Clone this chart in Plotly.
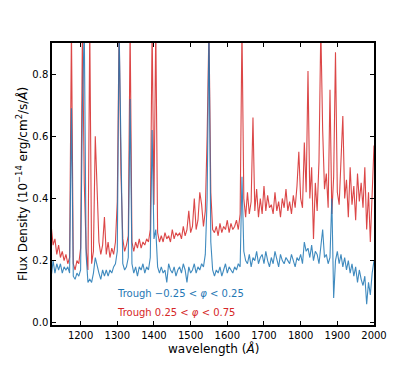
import plotly.graph_objects as go

# wavelength grid of the binned spectra (Angstrom)
wavelength = list(range(1120, 2005, 5))

# Trough 0.25 < phi < 0.75 (red)
flux_red = [
    0.31, 0.25, 0.27, 0.22, 0.25, 0.21, 0.23, 0.20, 0.22, 0.19,
    0.21, 0.95, 0.19, 0.17, 0.20, 0.19, 0.24, 0.95, 0.45, 0.24,
    0.17, 0.95, 0.19, 0.23, 0.60, 0.42, 0.26, 0.22, 0.25, 0.34,
    0.22, 0.26, 0.21, 0.24, 0.22, 0.26, 0.39, 0.95, 0.48, 0.27,
    0.23, 0.25, 0.28, 0.95, 0.26, 0.23, 0.26, 0.24, 0.27, 0.24,
    0.26, 0.25, 0.27, 0.26, 0.30, 0.95, 0.38, 0.95, 0.29, 0.26,
    0.28, 0.26, 0.29, 0.27, 0.28, 0.26, 0.30, 0.27, 0.29, 0.28,
    0.29, 0.27, 0.31, 0.28, 0.30, 0.36, 0.29, 0.31, 0.40, 0.30,
    0.33, 0.42, 0.38, 0.31, 0.36, 0.60, 0.95, 0.42, 0.30, 0.29,
    0.31, 0.28, 0.32, 0.29, 0.31, 0.30, 0.33, 0.29, 0.32, 0.30,
    0.31, 0.33, 0.30, 0.35, 0.95, 0.40, 0.34, 0.42, 0.35, 0.39,
    0.66, 0.36, 0.43, 0.34, 0.40, 0.35, 0.44, 0.36, 0.41, 0.37,
    0.38, 0.35, 0.42, 0.36, 0.39, 0.34, 0.40, 0.37, 0.43, 0.36,
    0.39, 0.35, 0.41, 0.37, 0.44, 0.55, 0.40, 0.37, 0.58, 0.42,
    0.81, 0.40, 0.50, 0.27, 0.45, 0.36, 0.52, 0.95, 0.62, 0.43,
    0.48, 0.37, 0.75, 0.35, 0.47, 0.87, 0.42, 0.38, 0.55, 0.665,
    0.40, 0.46, 0.34, 0.50, 0.38, 0.44, 0.33, 0.48, 0.39, 0.45,
    0.37, 0.50, 0.30, 0.42, 0.26, 0.45, 0.57,
]

# Trough -0.25 < phi < 0.25 (blue)
flux_blue = [
    0.15, 0.20, 0.16, 0.19, 0.17, 0.19, 0.16, 0.18, 0.17, 0.18,
    0.16, 0.69, 0.15, 0.14, 0.16, 0.15, 0.17, 0.70, 0.95, 0.22,
    0.13, 0.14, 0.13, 0.16, 0.21, 0.18, 0.16, 0.14, 0.17, 0.15,
    0.17, 0.15, 0.17, 0.16, 0.18, 0.19, 0.23, 0.95, 0.53, 0.19,
    0.17, 0.18, 0.21, 0.72, 0.19, 0.16, 0.18, 0.15, 0.18, 0.17,
    0.19, 0.16, 0.18, 0.17, 0.21, 0.62, 0.27, 0.30, 0.18, 0.16,
    0.18, 0.16, 0.17, 0.13, 0.19, 0.17, 0.16, 0.18, 0.15, 0.17,
    0.18, 0.16, 0.19, 0.17, 0.13, 0.18, 0.16, 0.17, 0.19, 0.16,
    0.18, 0.17, 0.19, 0.18, 0.22, 0.40, 0.95, 0.26, 0.17, 0.15,
    0.17, 0.16, 0.18, 0.15, 0.17, 0.19, 0.16, 0.18, 0.17, 0.16,
    0.18, 0.17, 0.19, 0.18, 0.47, 0.23, 0.20, 0.19, 0.22, 0.18,
    0.21, 0.20, 0.23, 0.19, 0.21, 0.22, 0.19, 0.23, 0.20, 0.18,
    0.21, 0.19, 0.23, 0.20, 0.18, 0.22, 0.20, 0.19, 0.21, 0.20,
    0.19, 0.22, 0.20, 0.18, 0.21, 0.20, 0.22, 0.19, 0.26, 0.23,
    0.24, 0.21, 0.25, 0.20, 0.23, 0.22, 0.19, 0.24, 0.30, 0.21,
    0.22, 0.19, 0.21, 0.40, 0.08, 0.20, 0.23, 0.19, 0.22, 0.18,
    0.21, 0.17, 0.20, 0.16, 0.19, 0.15, 0.18, 0.13, 0.17, 0.14,
    0.12, 0.15, 0.06, 0.13, 0.09, 0.16, 0.20,
]

label_blue = "Trough \u22120.25 < <i>\u03c6</i> < 0.25"
label_red = "Trough 0.25 < <i>\u03c6</i> < 0.75"
x_title = "wavelength (<i>Å</i>)"
y_title = "Flux Density (10<sup>\u221214</sup> erg/cm<sup>2</sup>/s/<i>Å</i>)"

RED = "#d62728"
BLUE = "#1f77b4"

fig = go.Figure()
fig.add_trace(go.Scatter(x=wavelength, y=flux_red, mode="lines",
                         line=dict(color=RED, width=1.1), opacity=0.85))
fig.add_trace(go.Scatter(x=wavelength, y=flux_blue, mode="lines",
                         line=dict(color=BLUE, width=1.1), opacity=0.85))

fig.add_annotation(text=label_blue, x=1294, y=0.093, xref="x", yref="y",
                   xanchor="left", showarrow=False, font=dict(color=BLUE, size=10))
fig.add_annotation(text=label_red, x=1294, y=0.032, xref="x", yref="y",
                   xanchor="left", showarrow=False, font=dict(color=RED, size=10))

# axis titles placed by hand so they sit where the reference has them
fig.add_annotation(text=x_title, x=0.5, y=-0.082, xref="paper", yref="paper",
                   xanchor="center", yanchor="middle", showarrow=False, font=dict(size=12))
fig.add_annotation(text=y_title, x=-0.093, y=0.5, xref="paper", yref="paper",
                   xanchor="center", yanchor="middle", textangle=-90, showarrow=False,
                   font=dict(size=12))

axis_style = dict(
    showline=True, linecolor="black", linewidth=1.5, mirror="ticks",
    ticks="inside", ticklen=4, tickwidth=1.2, tickcolor="black",
    showgrid=False, zeroline=False, automargin=False,
    tickfont=dict(size=10, color="black"),
)

# page body has an 8px margin, so the figure is sized/margined to land on the reference box
fig.update_layout(
    width=408, height=358,
    margin=dict(l=44, r=42, t=35, b=41),
    plot_bgcolor="white", paper_bgcolor="white",
    showlegend=False,
    font=dict(family="DejaVu Sans", color="black"),
    xaxis=dict(range=[1122, 2000], tickvals=[1200, 1300, 1400, 1500, 1600, 1700, 1800, 1900, 2000],
               **axis_style),
    yaxis=dict(range=[-0.007, 0.9], tickvals=[0.0, 0.2, 0.4, 0.6, 0.8], tickformat=".1f",
               **axis_style),
)

fig.write_html("out.html")
